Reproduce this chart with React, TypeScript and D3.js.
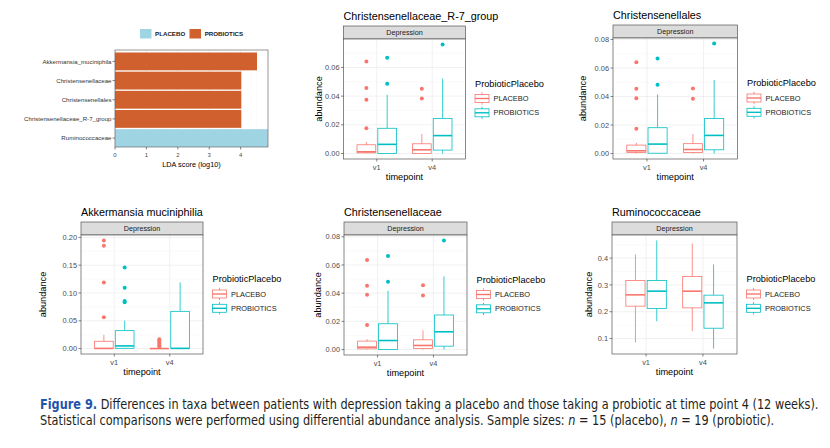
import React, { useLayoutEffect, useRef, useState } from "react";
import * as d3 from "d3";

// ---- LDA (LEfSe) bar chart data ----
const ldaTaxa = [
  "Akkermansia_muciniphila",
  "Christensenellaceae",
  "Christensenellales",
  "Christensenellaceae_R-7_group",
  "Ruminococcaceae",
];
const ldaScores = [4.52, 4.02, 4.02, 4.02, 4.87];
const ldaGroup = ["PROBIOTICS", "PROBIOTICS", "PROBIOTICS", "PROBIOTICS", "PLACEBO"];
const ldaTicks = [0, 1, 2, 3, 4];

// ---- boxplot data ----
const TIMEPOINTS = ["v1", "v4"];
const GROUPS = ["PLACEBO", "PROBIOTICS"];
const BOX_COLORS = ["#F8766D", "#00BFC4"];
const BAR_COLORS: Record<string, string> = { PLACEBO: "#9fd5e3", PROBIOTICS: "#d0602e" };

// rows: placebo v1, probiotics v1, placebo v4, probiotics v4
// each: [lower whisker, q1, median, q3, upper whisker]
const r7Stats = [
  [0, 0.0005, 0.0012, 0.0061, 0.008],
  [0, 0, 0.0064, 0.0176, 0.0409],
  [0, 0, 0.0026, 0.0068, 0.0136],
  [0, 0.0024, 0.0125, 0.0245, 0.0522],
];
const r7Outliers = [[0.0642, 0.0456, 0.0374, 0.0176], [0.0668, 0.0487], [0.0452, 0.0384], [0.076]];

const chrStats = [
  [0, 0.0007, 0.0019, 0.0059, 0.0075],
  [0, 0.0002, 0.0066, 0.0181, 0.0415],
  [0, 0.0007, 0.0028, 0.0069, 0.0137],
  [0, 0.0026, 0.0127, 0.0245, 0.0516],
];
const chrOutliers = [[0.064, 0.0454, 0.0388, 0.0174], [0.0666, 0.0482], [0.0456, 0.0384], [0.0772]];

const akkStats = [
  [0, 0, 0.0003, 0.0132, 0.0246],
  [0, 0.0005, 0.0048, 0.0323, 0.0503],
  [0, 0, 0, 0.0004, 0.001],
  [0, 0, 0.0004, 0.067, 0.119],
];
const akkOutliers = [
  [0.0563, 0.119, 0.185, 0.1946],
  [0.0832, 0.0856, 0.1096, 0.146],
  [0.0036, 0.006, 0.009, 0.012, 0.014, 0.0168],
  [],
];

const chcStats = [
  [0, 0.0005, 0.0017, 0.006, 0.0074],
  [0, 0, 0.0064, 0.0183, 0.0417],
  [0, 0.0007, 0.0029, 0.0069, 0.0136],
  [0, 0.0024, 0.0126, 0.0245, 0.0519],
];
const chcOutliers = [[0.0636, 0.0452, 0.0388, 0.0174], [0.0664, 0.0481], [0.0457, 0.0383], [0.0774]];

const rumStats = [
  [0.0849, 0.2207, 0.263, 0.3166, 0.4137],
  [0.1646, 0.212, 0.2767, 0.3166, 0.466],
  [0.1273, 0.2145, 0.2767, 0.3315, 0.4548],
  [0.0625, 0.1385, 0.2331, 0.2618, 0.3763],
];
const rumOutliers = [[], [], [], []];

const smallTicks = [0, 0.02, 0.04, 0.06, 0.08];
const akkTicks = [0, 0.05, 0.1, 0.15, 0.2];
const rumTicks = [0.1, 0.2, 0.3, 0.4];

const FONT = "'Liberation Sans', Arial, Helvetica, sans-serif";

interface Frame { x: number; y: number; w: number; h: number; ylabX: number }

const BoxPanel: React.FC<{
  title: string;
  stats: number[][];
  outliers: number[][];
  ticks: number[];
  digits: number;
  frame: Frame;
}> = ({ title, stats, outliers, ticks, digits, frame }) => {
  const { x, y, w, h, ylabX } = frame;
  const all = [...stats.flat(), ...outliers.flat()];
  const lo = d3.min(all) as number;
  const hi = d3.max(all) as number;
  const pad = (hi - lo) * 0.05;
  const ys = d3.scaleLinear().domain([lo - pad, hi + pad]).range([y + h, y]);
  const xs = d3.scaleLinear().domain([-0.6, 1.6]).range([x, x + w]);
  const unit = xs(1) - xs(0);
  const [d0, d1] = ys.domain();
  const shown = ticks.filter((t) => t >= d0 && t <= d1);
  const step = ticks[1] - ticks[0];
  const minor = [ticks[0] - step / 2, ...ticks.map((t) => t + step / 2)].filter((t) => t >= d0 && t <= d1);
  const fmt = d3.format(`.${digits}f`);
  const stripH = 13;
  const cy = y + h / 2;
  const lx = x + w + 9.5;

  return (
    <g fontFamily={FONT}>
      <text x={x} y={y - stripH - 6.5} fontSize={10.8} fill="#000">{title}</text>
      <rect x={x} y={y - stripH} width={w} height={stripH} fill="#dcdcdc" stroke="#555" strokeWidth={0.7} />
      <text x={x + w / 2} y={y - stripH / 2 + 2.5} fontSize={7.2} textAnchor="middle" fill="#1a1a1a">Depression</text>
      <rect x={x} y={y} width={w} height={h} fill="#fff" />
      {minor.map((t) => (
        <line key={"m" + t} x1={x} x2={x + w} y1={ys(t)} y2={ys(t)} stroke="#f3f3f3" strokeWidth={0.4} />
      ))}
      {shown.map((t) => (
        <line key={"g" + t} x1={x} x2={x + w} y1={ys(t)} y2={ys(t)} stroke="#ebebeb" strokeWidth={0.7} />
      ))}
      {TIMEPOINTS.map((tp, i) => (
        <line key={"v" + tp} x1={xs(i)} x2={xs(i)} y1={y} y2={y + h} stroke="#ebebeb" strokeWidth={0.7} />
      ))}
      {stats.map((s, k) => {
        const g = k % 2;
        const t = Math.floor(k / 2);
        const cx = xs(t) + (g - 0.5) * 0.375 * unit;
        const hw = (0.3375 / 2) * unit;
        const col = BOX_COLORS[g];
        return (
          <g key={"b" + k} stroke={col} fill="none">
            <line x1={cx} x2={cx} y1={ys(s[3])} y2={ys(s[4])} strokeWidth={0.8} />
            <line x1={cx} x2={cx} y1={ys(s[1])} y2={ys(s[0])} strokeWidth={0.8} />
            <rect x={cx - hw} y={ys(s[3])} width={hw * 2} height={Math.max(ys(s[1]) - ys(s[3]), 0.01)} fill="#fff" strokeWidth={0.8} />
            <line x1={cx - hw} x2={cx + hw} y1={ys(s[2])} y2={ys(s[2])} strokeWidth={1.6} />
            {outliers[k].map((o, j) => (
              <circle key={j} cx={cx} cy={ys(o)} r={2} fill={col} stroke="none" />
            ))}
          </g>
        );
      })}
      <rect x={x} y={y} width={w} height={h} fill="none" stroke="#555" strokeWidth={0.7} />
      {shown.map((t) => (
        <g key={"t" + t}>
          <line x1={x - 2.5} x2={x} y1={ys(t)} y2={ys(t)} stroke="#333" strokeWidth={0.6} />
          <text x={x - 4} y={ys(t) + 2.6} fontSize={7.4} textAnchor="end" fill="#4d4d4d">{fmt(t)}</text>
        </g>
      ))}
      {TIMEPOINTS.map((tp, i) => (
        <g key={"x" + tp}>
          <line x1={xs(i)} x2={xs(i)} y1={y + h} y2={y + h + 2.5} stroke="#333" strokeWidth={0.6} />
          <text x={xs(i)} y={y + h + 10.5} fontSize={7.4} textAnchor="middle" fill="#4d4d4d">{tp}</text>
        </g>
      ))}
      <text x={x + w / 2} y={y + h + 21} fontSize={9.2} textAnchor="middle" fill="#000">timepoint</text>
      <text transform={`translate(${ylabX},${cy}) rotate(-90)`} y={3.2} fontSize={9.2} textAnchor="middle" fill="#000">abundance</text>
      <text x={lx} y={cy - 12.3} fontSize={9.2} fill="#000">ProbioticPlacebo</text>
      {GROUPS.map((grp, g) => {
        const ky = cy - 0.5 + g * 14.3;
        const col = BOX_COLORS[g];
        return (
          <g key={grp}>
            <g stroke={col} fill="none" strokeWidth={0.8}>
              <line x1={lx + 7} x2={lx + 7} y1={ky - 6.2} y2={ky + 6.2} />
              <rect x={lx} y={ky - 4} width={14} height={8} fill="#fff" />
              <line x1={lx} x2={lx + 14} y1={ky} y2={ky} strokeWidth={1.4} />
            </g>
            <text x={lx + 18.5} y={ky + 2.6} fontSize={7.4} fill="#1a1a1a">{grp}</text>
          </g>
        );
      })}
    </g>
  );
};

const LdaChart: React.FC = () => {
  const px = 115, py = 50, pw = 153, ph = 97;
  const xs = d3.scaleLinear().domain([0, 4.87]).range([px, px + pw]);
  const ys = d3.scaleBand<string>().domain(ldaTaxa).range([py + 2.5, py + ph]).paddingInner(0.07);
  const minor = [0.5, 1.5, 2.5, 3.5, 4.5];
  return (
    <g fontFamily={FONT}>
      {GROUPS.map((g, i) => (
        <g key={g}>
          <rect x={140 + i * 49.5} y={29} width={11.5} height={9.5} fill={BAR_COLORS[g]} />
          <text x={155 + i * 49.7} y={36.2} fontSize={6.2} fill="#1a1a1a" fontWeight={600}>{g}</text>
        </g>
      ))}
      <rect x={px} y={py} width={pw} height={ph} fill="#fff" />
      {minor.map((t) => (
        <line key={"m" + t} x1={xs(t)} x2={xs(t)} y1={py} y2={py + ph} stroke="#f2f2f2" strokeWidth={0.4} />
      ))}
      {ldaTicks.map((t) => (
        <line key={"g" + t} x1={xs(t)} x2={xs(t)} y1={py} y2={py + ph} stroke="#ebebeb" strokeWidth={0.7} />
      ))}
      {ldaTaxa.map((t, i) => (
        <rect key={t} x={xs(0)} y={ys(t)} width={xs(ldaScores[i]) - xs(0)} height={ys.bandwidth()} fill={BAR_COLORS[ldaGroup[i]]} />
      ))}
      <rect x={px} y={py} width={pw} height={ph} fill="none" stroke="#6a6a6a" strokeWidth={0.7} />
      {ldaTaxa.map((t) => (
        <g key={"l" + t}>
          <line x1={px - 2.5} x2={px} y1={ys(t)! + ys.bandwidth() / 2} y2={ys(t)! + ys.bandwidth() / 2} stroke="#333" strokeWidth={0.6} />
          <text x={px - 3.5} y={ys(t)! + ys.bandwidth() / 2 + 2.1} fontSize={6.1} textAnchor="end" fill="#333">{t}</text>
        </g>
      ))}
      {ldaTicks.map((t) => (
        <g key={"x" + t}>
          <line x1={xs(t)} x2={xs(t)} y1={py + ph} y2={py + ph + 2.5} stroke="#333" strokeWidth={0.6} />
          <text x={xs(t)} y={py + ph + 9.5} fontSize={6} textAnchor="middle" fill="#4d4d4d">{t}</text>
        </g>
      ))}
      <text x={px + pw / 2} y={py + ph + 19.5} fontSize={7.3} textAnchor="middle" fill="#000">LDA score (log10)</text>
    </g>
  );
};

const CAPTION_FONT = "'Liberation Sans Narrow', 'DejaVu Sans Condensed', 'Liberation Sans', sans-serif";
const CAPTION_WIDTHS = [779, 735];

const Caption: React.FC = () => {
  const l1 = useRef<SVGTextElement>(null);
  const l2 = useRef<SVGTextElement>(null);
  const [sx, setSx] = useState<number[] | null>(null);
  useLayoutEffect(() => {
    const w1 = l1.current ? l1.current.getComputedTextLength() : CAPTION_WIDTHS[0];
    const w2 = l2.current ? l2.current.getComputedTextLength() : CAPTION_WIDTHS[1];
    setSx([CAPTION_WIDTHS[0] / w1, CAPTION_WIDTHS[1] / w2]);
  }, []);
  const s = sx || [1, 1];
  return (
    <g fontFamily={CAPTION_FONT} fontSize={13.5} fill="#231f20" opacity={sx ? 1 : 0}>
      <g transform={`translate(40,409) scale(${s[0]},1)`}>
        <text ref={l1} x={0} y={0}>
          <tspan fill="#1f55a8" fontWeight={700}>Figure 9.</tspan> Differences in taxa between patients with depression taking a placebo and those taking a probiotic at time point 4 (12 weeks).
        </text>
      </g>
      <g transform={`translate(40,425) scale(${s[1]},1)`}>
        <text ref={l2} x={0} y={0}>
          Statistical comparisons were performed using differential abundance analysis. Sample sizes: <tspan fontStyle="italic">n</tspan> = 15 (placebo), <tspan fontStyle="italic">n</tspan> = 19 (probiotic).
        </text>
      </g>
    </g>
  );
};

export default function App() {
  return (
    <svg width={830} height={448} style={{ position: "absolute", left: 0, top: 0, background: "#fff" }}>
      <rect width={830} height={448} fill="#fff" />
      <LdaChart />
      <BoxPanel title="Christensenellaceae_R-7_group" stats={r7Stats} outliers={r7Outliers} ticks={smallTicks} digits={2}
        frame={{ x: 343.5, y: 39, w: 122, h: 120, ylabX: 319 }} />
      <BoxPanel title="Christensenellales" stats={chrStats} outliers={chrOutliers} ticks={smallTicks} digits={2}
        frame={{ x: 613, y: 38, w: 124.5, h: 121, ylabX: 583 }} />
      <BoxPanel title="Akkermansia muciniphilia" stats={akkStats} outliers={akkOutliers} ticks={akkTicks} digits={2}
        frame={{ x: 81, y: 235, w: 122, h: 119, ylabX: 43 }} />
      <BoxPanel title="Christensenellaceae" stats={chcStats} outliers={chcOutliers} ticks={smallTicks} digits={2}
        frame={{ x: 344, y: 235, w: 123, h: 120, ylabX: 318 }} />
      <BoxPanel title="Ruminococcaceae" stats={rumStats} outliers={rumOutliers} ticks={rumTicks} digits={1}
        frame={{ x: 612, y: 235, w: 125, h: 119, ylabX: 589 }} />
      <Caption />
    </svg>
  );
}
